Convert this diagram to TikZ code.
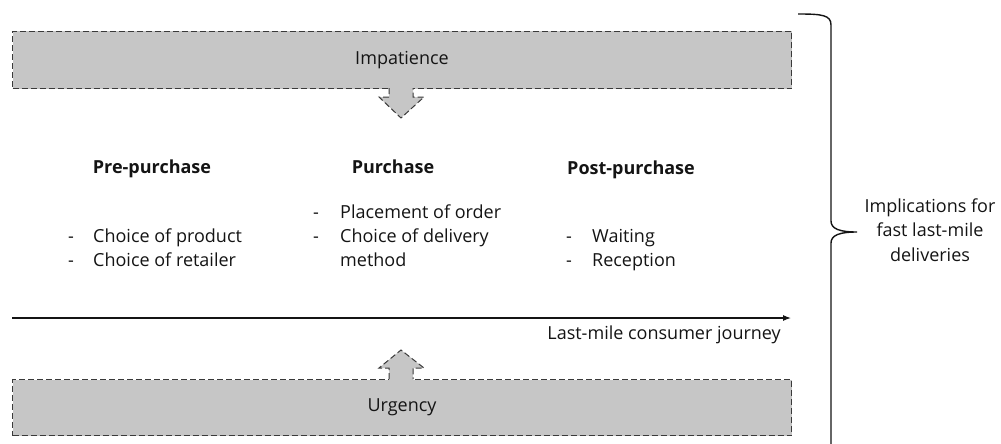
\documentclass[tikz,border=0pt]{standalone}
\usepackage{fontspec}
\setmainfont{Open Sans}
\usetikzlibrary{arrows.meta}

\definecolor{boxgray}{HTML}{C6C6C6}
\definecolor{edgegray}{HTML}{3A3A3A}
\definecolor{ink}{HTML}{141414}

\tikzset{
  band/.style={draw=edgegray, fill=boxgray, line width=1pt, dash pattern=on 6pt off 3pt, inner sep=0pt},
  blockedge/.style={draw=edgegray, line width=1pt, dash pattern=on 6pt off 3pt},
  item/.style={anchor=base west, inner sep=0pt},
  dashmark/.style={anchor=base, inner sep=0pt},
  heading/.style={anchor=base, inner sep=0pt, font=\fontsize{18}{22}\selectfont\bfseries},
}

\begin{document}
\begin{tikzpicture}[x=1pt,y=-1pt,font=\fontsize{18}{22}\selectfont,text=ink]
\useasboundingbox (0,0) rectangle (1001,444);

% the two shaded bands
\node[band, anchor=north west, minimum width=779pt, minimum height=57pt] (impatience) at (12,31) {Impatience};
\node[band, anchor=north west, minimum width=779pt, minimum height=56pt] (urgency) at (12,379) {Urgency};

% block arrows out of the bands
\fill[boxgray] (389,84) -- (389,97) -- (379,97) -- (401,118) -- (424,97) -- (413,97) -- (413,84) -- cycle;
\draw[blockedge] (389,88) -- (389,97) -- (379,97) -- (401,118) -- (424,97) -- (413,97) -- (413,88);
\fill[boxgray] (389,383) -- (389,368) -- (379,368) -- (401,350) -- (424,368) -- (413,368) -- (413,383) -- cycle;
\draw[blockedge] (389,379) -- (389,368) -- (379,368) -- (401,350) -- (424,368) -- (413,368) -- (413,379);

% stages
\node[heading] (pre) at (152,173) {Pre-purchase};
\node[heading] (buy) at (393,173) {Purchase};
\node[heading] (post) at (631,174) {Post-purchase};

\node[dashmark] (d1) at (71,242) {-};
\node[item] (product) at (93,242) {Choice of product};
\node[dashmark] (d2) at (71,266) {-};
\node[item] (retailer) at (93,266) {Choice of retailer};

\node[dashmark] (d3) at (316,218) {-};
\node[item] (order) at (340,218) {Placement of order};
\node[dashmark] (d4) at (316,242) {-};
\node[item] (method) at (340,242) {Choice of delivery};
\node[item] (method2) at (340,266) {method};

\node[dashmark] (d5) at (569,242) {-};
\node[item] (waiting) at (592,242) {Waiting};
\node[dashmark] (d6) at (569,266) {-};
\node[item] (reception) at (592,266) {Reception};

% journey axis
\coordinate (start) at (12,318);
\coordinate (end) at (791,318);
\draw[-{Latex[length=8pt,width=6pt]}, line width=1.1pt, ink] (start) -- (end);
\node[anchor=base east, inner sep=0pt] (journey) at (781,339) {Last-mile consumer journey};

% brace on the right
\draw[line width=1.4pt, ink] (798,14) .. controls (822,14) and (831,15) .. (831,25)
  -- (831,221) .. controls (831,229) and (840,232) .. (857,232)
  .. controls (840,232) and (831,235) .. (831,243) -- (831,446)
  .. controls (831,455) and (822,456) .. (798,456);
\node[anchor=base, align=center, inner sep=0pt, font=\fontsize{18}{24.5}\selectfont] (implications) at (930,261) {Implications for\\fast last-mile\\deliveries};
\end{tikzpicture}
\end{document}
